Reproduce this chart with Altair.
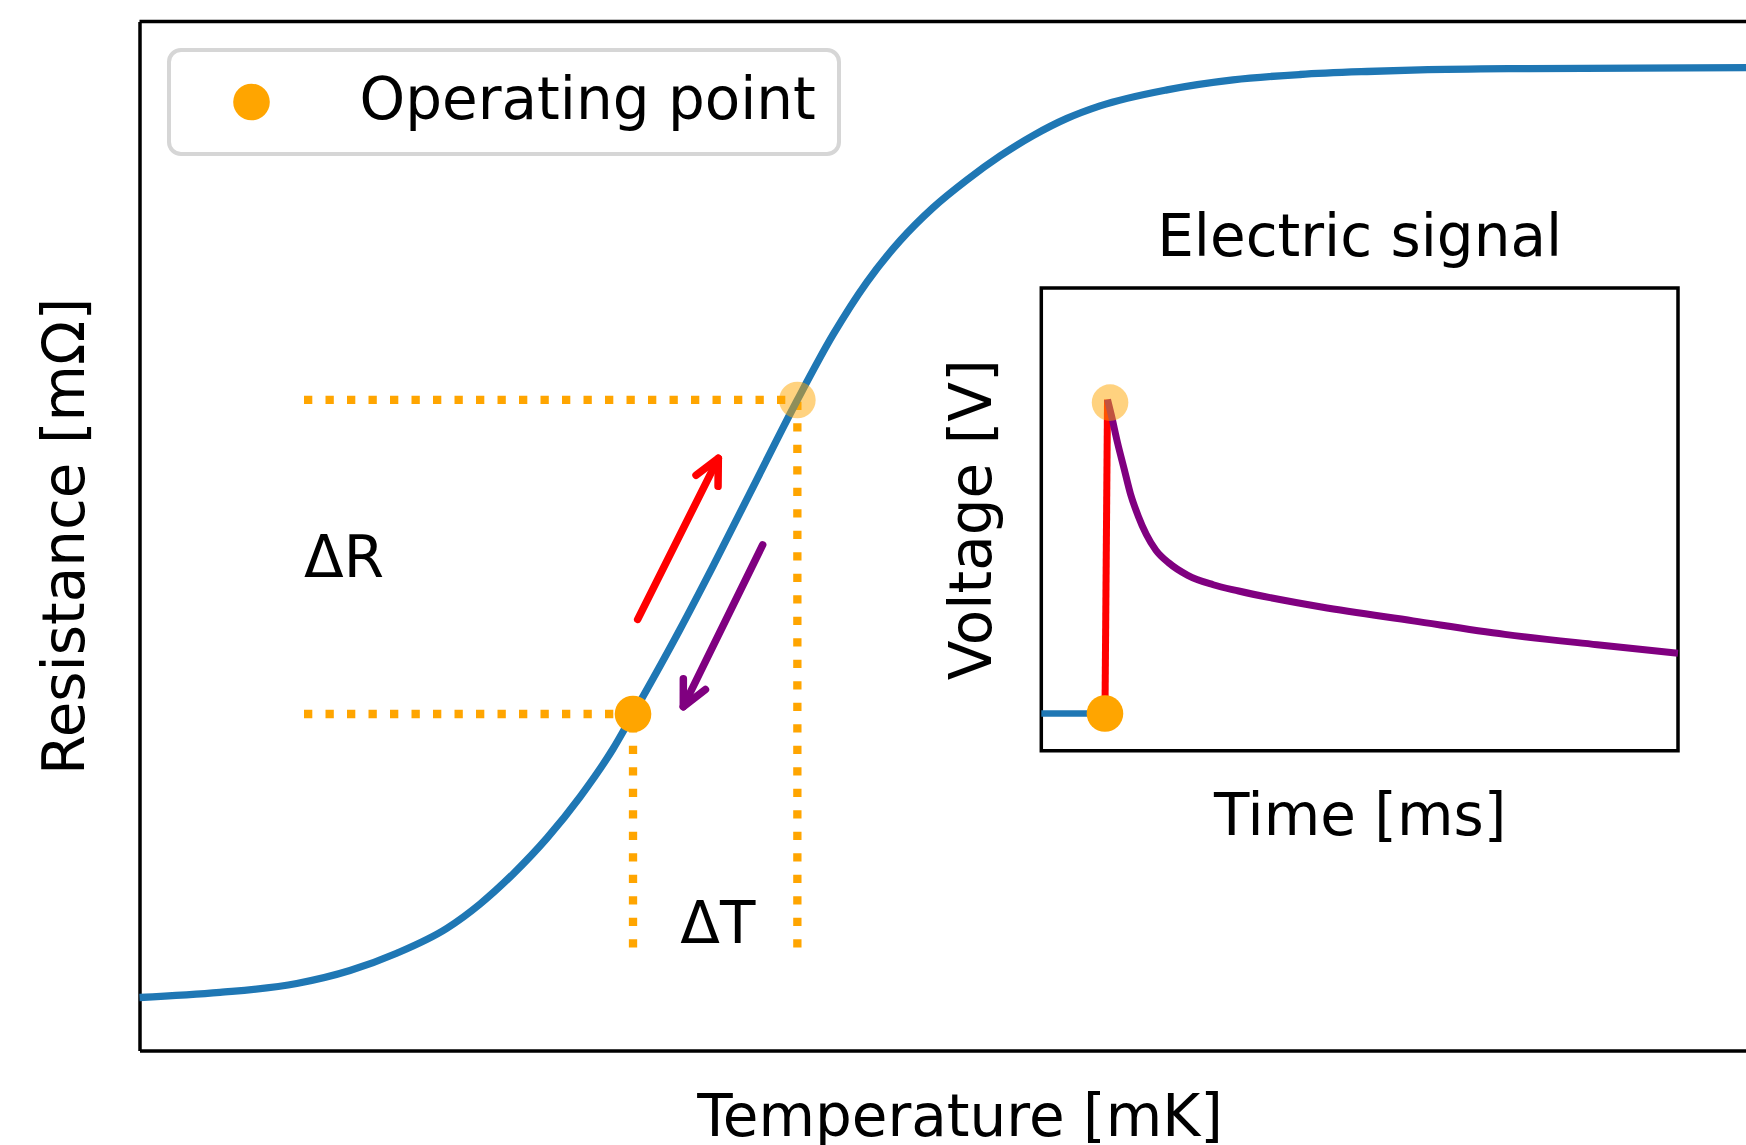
import math

import altair as alt
import pandas as pd

FONT = "DejaVu Sans"
FS = 58

# ---------------------------------------------------------------------------
# Superconducting transition: resistance vs temperature (arbitrary units)
temperature = [0.00, 5.01, 9.79, 13.10, 16.01, 19.14, 21.20, 23.25,
               25.37, 27.42, 29.47, 30.72, 33.64, 35.70, 38.00, 40.95, 43.17,
               45.28, 47.34, 49.39, 51.51, 53.56, 55.62, 57.73, 59.79, 63.96,
               68.07, 72.24, 76.41, 79.71, 86.49, 100.0]
resistance = [5.15, 5.64, 6.51, 7.77, 9.45, 11.88, 14.24, 17.15,
              20.65, 24.64, 29.30, 32.70, 40.92, 47.08, 54.17, 63.22, 69.56,
              74.68, 78.69, 81.90, 84.61, 86.92, 88.91, 90.58, 91.80, 93.36,
              94.33, 94.85, 95.14, 95.30, 95.43, 95.52]

# operating point (index 0) and shifted point after heating (index 1)
op_temperature = [30.72, 40.95]
op_resistance = [32.70, 63.22]
guide_t_start = 10.24   # where the dotted R guides begin
guide_r_start = 10.0    # where the dotted T guides begin

# arrows along the transition: (t0, r0, t1, r1, colour)
arrow_specs = [
    (31.01, 41.90, 36.03, 57.55, "red"),
    (38.79, 49.13, 33.85, 33.41, "purple"),
]

delta_labels = ["ΔR", "ΔT"]
delta_t = [10.24, 33.66]
delta_r = [45.97, 10.47]

# ---------------------------------------------------------------------------
# Inset: the electric pulse
time_base = [0.0, 1.0]
volt_base = [0.0, 0.0]
time_rise = [1.0, 1.04]
volt_rise = [0.0, 1.0]
time_decay = [1.04, 1.10, 1.20, 1.30, 1.40, 1.52, 1.65, 1.80, 2.00, 2.30,
              2.70, 3.10, 4.40, 5.84, 7.28, 8.73, 10.0]
volt_decay = [1.00, 0.95, 0.86, 0.78, 0.70, 0.63, 0.57, 0.52, 0.48, 0.44,
              0.41, 0.39, 0.339, 0.295, 0.252, 0.219, 0.192]
pulse_time = [1.0, 1.08]
pulse_volt = [0.0, 0.99]

# ---------------------------------------------------------------------------
# layout
LEFT, TOP = 139.5, 21.5
PLOT_W, PLOT_H = 1606.5, 1029.0
T_DOM = [0.0, 100.0]
R_DOM = [0.0, 100.0]
INSET_T_DOM = [0.0, 10.0]
INSET_V_DOM = [-0.1185, 1.355]
INSET_X_RANGE = [901.8, 1538.5]
INSET_Y_RANGE = [729.2, 266.5]

PX_PER_T = PLOT_W / (T_DOM[1] - T_DOM[0])
PX_PER_R = PLOT_H / (R_DOM[1] - R_DOM[0])

ORANGE = "#ffa500"
BLUE = "#1f77b4"

X_SCALE = alt.Scale(domain=T_DOM, nice=False, zero=False)
Y_SCALE = alt.Scale(domain=R_DOM, nice=False, zero=False)
AX = dict(ticks=False, labels=False, grid=False, titleFont=FONT,
          titleFontSize=FS, titleFontWeight="normal", titleColor="black",
          titleBaseline="alphabetic")
X_AXIS = alt.Axis(title="Temperature [mK]", domain=True, domainColor="black",
                  domainWidth=3.5, titleX=820, titleY=85, titleAlign="center", **AX)
Y_AXIS = alt.Axis(title="Resistance [mΩ]", domain=True, domainColor="black",
                  domainWidth=3.5, titleX=-56, titleAngle=270,
                  titleAlign="center", **AX)

T_SCALE = alt.Scale(domain=INSET_T_DOM, range=INSET_X_RANGE, nice=False, zero=False)
V_SCALE = alt.Scale(domain=INSET_V_DOM, range=INSET_Y_RANGE, nice=False, zero=False)
TX_AXIS = alt.Axis(title="Time [ms]", orient="bottom",
                   offset=-(PLOT_H - INSET_Y_RANGE[0]), domain=False,
                   titleY=83.3, titleAlign="center", **AX)
VY_AXIS = alt.Axis(title="Voltage [V]", orient="left", offset=-INSET_X_RANGE[0],
                   domain=False, titleX=-50.9, titleAngle=270,
                   titleAlign="center", **AX)


def mx(field="x"):
    return alt.X(f"{field}:Q", scale=X_SCALE, axis=X_AXIS)


def my(field="y"):
    return alt.Y(f"{field}:Q", scale=Y_SCALE, axis=Y_AXIS)


def ix():
    return alt.X("t:Q", scale=T_SCALE, axis=TX_AXIS)


def iy():
    return alt.Y("v:Q", scale=V_SCALE, axis=VY_AXIS)


# ---------------------------------------------------------------------------
# main panel
top_spine = alt.Chart(pd.DataFrame({"x": [0]})).mark_rule(
    color="black", strokeWidth=3.5
).encode(
    x=alt.XDatum(T_DOM[0], scale=X_SCALE, axis=X_AXIS),
    x2=alt.X2Datum(T_DOM[1]),
    y=alt.YDatum(R_DOM[1], scale=Y_SCALE, axis=Y_AXIS),
)

guide_rows = []
for i, (t, r) in enumerate(zip(op_temperature, op_resistance)):
    guide_rows += [
        {"seg": f"h{i}", "o": 0, "x": guide_t_start, "y": r},
        {"seg": f"h{i}", "o": 1, "x": t, "y": r},
        {"seg": f"v{i}", "o": 0, "x": t, "y": guide_r_start},
        {"seg": f"v{i}", "o": 1, "x": t, "y": r},
    ]
guides = alt.Chart(pd.DataFrame(guide_rows)).mark_line(
    color=ORANGE, strokeWidth=8.3, strokeDash=[8.3, 13.2], strokeCap="butt"
).encode(x=mx(), y=my(), detail="seg:N", order="o:Q")

curve = alt.Chart(pd.DataFrame({"x": temperature, "y": resistance})).mark_line(
    color=BLUE, strokeWidth=7.3, interpolate="monotone"
).encode(x=mx(), y=my())

CHEVRON = "M -0.44 0.9 L 0 0 L 0.44 0.9"
arrow_layers = []
for t0, r0, t1, r1, col in arrow_specs:
    heading = math.degrees(math.atan2((t1 - t0) * PX_PER_T, (r1 - r0) * PX_PER_R)) % 360
    seg = pd.DataFrame({"x": [t0], "y": [r0], "x2": [t1], "y2": [r1]})
    arrow_layers.append(
        alt.Chart(seg).mark_rule(color=col, strokeWidth=7.5, strokeCap="round")
        .encode(x=mx(), y=my(), x2="x2:Q", y2="y2:Q")
    )
    arrow_layers.append(
        alt.Chart(seg).mark_point(
            shape=CHEVRON, size=3136, filled=False, color=col, opacity=1,
            strokeWidth=7.5, strokeCap="round", strokeJoin="round", angle=heading,
        ).encode(x=mx("x2"), y=my("y2"))
    )

LEGEND = alt.Legend(
    title=None, orient="none", legendX=29.5, legendY=28.5, padding=23,
    fillColor="white", strokeColor="#d6d6d6", cornerRadius=12,
    labelFont=FONT, labelFontSize=FS, labelColor="black", labelLimit=2000,
    labelOffset=79, symbolType="circle", symbolSize=1340, symbolOffset=30.5,
    symbolStrokeWidth=0, symbolOpacity=1,
)
op_now = alt.Chart(pd.DataFrame({
    "x": [op_temperature[0]], "y": [op_resistance[0]], "kind": ["Operating point"],
})).mark_circle(size=1340, opacity=1).encode(
    x=mx(), y=my(),
    color=alt.Color("kind:N", scale=alt.Scale(domain=["Operating point"], range=[ORANGE]),
                    legend=LEGEND),
)
op_hot = alt.Chart(pd.DataFrame({
    "x": [op_temperature[1]], "y": [op_resistance[1]],
})).mark_circle(size=1340, color=ORANGE, opacity=0.5).encode(x=mx(), y=my())

deltas = alt.Chart(pd.DataFrame({"x": delta_t, "y": delta_r, "label": delta_labels})).mark_text(
    font=FONT, fontSize=FS, color="black", align="left", baseline="alphabetic"
).encode(x=mx(), y=my(), text="label:N")

main = alt.layer(top_spine, guides, curve, *arrow_layers, op_hot, op_now, deltas)

# ---------------------------------------------------------------------------
# inset panel
frame = alt.Chart(pd.DataFrame({"t": [0]})).mark_rect(
    fill="white", stroke="black", strokeWidth=3.5
).encode(
    x=alt.XDatum(INSET_T_DOM[0], scale=T_SCALE, axis=TX_AXIS),
    x2=alt.X2Datum(INSET_T_DOM[1]),
    y=alt.YDatum(INSET_V_DOM[0], scale=V_SCALE, axis=VY_AXIS),
    y2=alt.Y2Datum(INSET_V_DOM[1]),
)


def trace(ts, vs, col, width, interp="linear"):
    return alt.Chart(pd.DataFrame({"t": ts, "v": vs})).mark_line(
        color=col, strokeWidth=width, interpolate=interp
    ).encode(x=ix(), y=iy())


base = trace(time_base, volt_base, BLUE, 6.5)
rise = trace(time_rise, volt_rise, "red", 7)
decay = trace(time_decay, volt_decay, "purple", 7, "monotone")

pulse_start = alt.Chart(pd.DataFrame({"t": [pulse_time[0]], "v": [pulse_volt[0]]})).mark_circle(
    size=1340, color=ORANGE, opacity=1
).encode(x=ix(), y=iy())
pulse_peak = alt.Chart(pd.DataFrame({"t": [pulse_time[1]], "v": [pulse_volt[1]]})).mark_circle(
    size=1340, color=ORANGE, opacity=0.5
).encode(x=ix(), y=iy())

inset_title = alt.Chart(pd.DataFrame({"t": [0]})).mark_text(
    text="Electric signal", font=FONT, fontSize=FS, color="black",
    align="center", baseline="alphabetic"
).encode(
    x=alt.XDatum(5.0, scale=T_SCALE, axis=TX_AXIS),
    y=alt.YDatum(1.457, scale=V_SCALE, axis=VY_AXIS),
)

inset = alt.layer(frame, base, rise, decay, pulse_start, pulse_peak, inset_title)

chart = alt.layer(main, inset).resolve_scale(
    x="independent", y="independent"
).properties(
    width=PLOT_W,
    height=PLOT_H,
    padding={"left": LEFT, "top": TOP, "right": 0, "bottom": 1145 - TOP - PLOT_H},
    autosize=alt.AutoSizeParams(type="none"),
).configure(font=FONT).configure_view(stroke=None).configure_legend(strokeWidth=4)

chart.save("out.html", embed_options={"renderer": "svg", "actions": False})
